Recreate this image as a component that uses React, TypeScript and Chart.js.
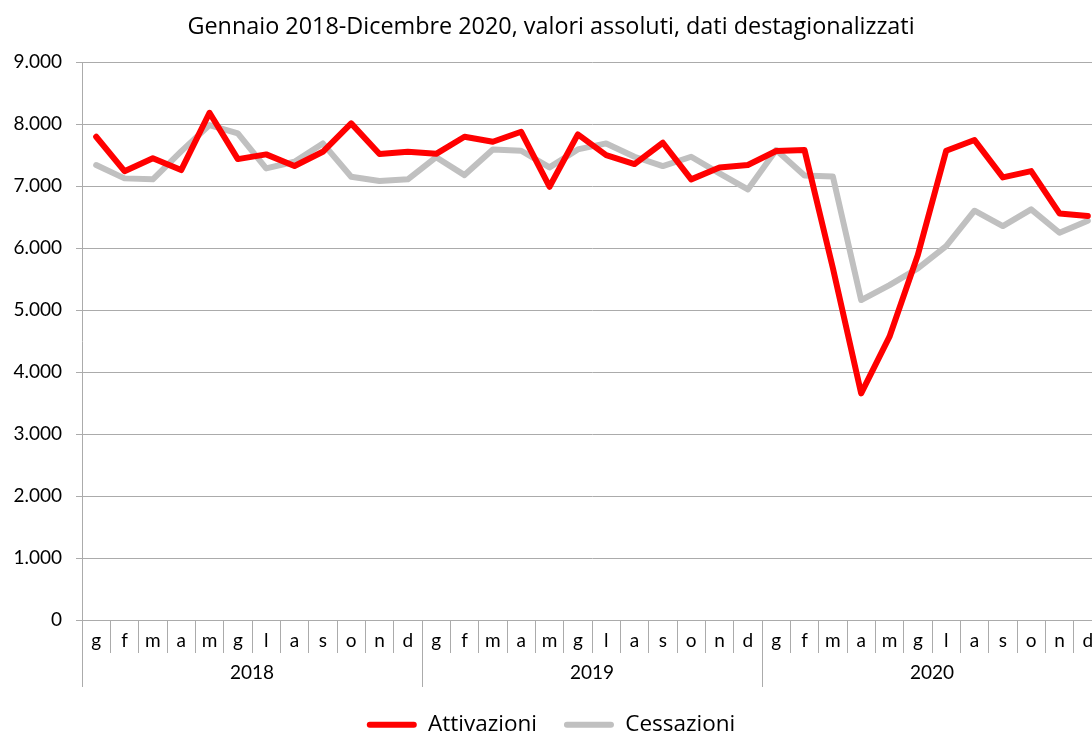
import React, { useEffect, useRef } from 'react';
import { Chart, registerables } from 'chart.js';

Chart.register(...registerables);

const TITLE = 'Gennaio 2018-Dicembre 2020, valori assoluti, dati destagionalizzati';
const MONTHS = ['g', 'f', 'm', 'a', 'm', 'g', 'l', 'a', 's', 'o', 'n', 'd'];
const YEARS = ['2018', '2019', '2020'];
const CATEGORIES = YEARS.flatMap(() => MONTHS);
const SERIES_NAMES = ['Attivazioni', 'Cessazioni'];

const ATTIVAZIONI = [
  7795, 7240, 7447, 7258, 8182, 7435, 7511, 7323, 7553, 8011, 7516, 7553,
  7520, 7796, 7715, 7876, 6989, 7833, 7500, 7355, 7699, 7108, 7301, 7339,
  7565, 7581, 5680, 3656, 4570, 5887, 7570, 7742, 7140, 7242, 6559, 6516,
];
const CESSAZIONI = [
  7339, 7124, 7108, 7560, 7984, 7850, 7285, 7392, 7688, 7150, 7081, 7108,
  7465, 7177, 7591, 7570, 7301, 7591, 7688, 7473, 7323, 7473, 7204, 6946,
  7581, 7170, 7155, 5161, 5403, 5672, 6032, 6602, 6355, 6624, 6247, 6440,
];

const Y_MIN = 0;
const Y_MAX = 9000;
const Y_STEP = 1000;

const FONT = 'Lato';
const TEXT_FONT = '"Open Sans"';
const GRID = '#ababab';
const RED = '#ff0000';
const GREY = '#c0c0c0';

const fmt = (v: number) => String(Math.round(v)).replace(/\B(?=(\d{3})+(?!\d))/g, '.');

const yearPlugin = {
  id: 'yearGroups',
  afterDraw(chart: any) {
    const xs = chart.scales.x;
    const ctx = chart.ctx;
    const n = MONTHS.length;
    const top = chart.chartArea.bottom;
    const bottom = top + 67;
    const half = (xs.getPixelForValue(1) - xs.getPixelForValue(0)) / 2;
    ctx.save();
    ctx.strokeStyle = GRID;
    ctx.lineWidth = 1;
    ctx.fillStyle = '#000';
    ctx.font = `19px ${FONT}`;
    ctx.textAlign = 'center';
    ctx.textBaseline = 'middle';
    YEARS.forEach((yr, i) => {
      const left = xs.getPixelForValue(i * n) - half;
      const right = xs.getPixelForValue(i * n + n - 1) + half;
      [left, right].forEach((px) => {
        const ax = Math.round(px) + 0.5;
        ctx.beginPath();
        ctx.moveTo(ax, top);
        ctx.lineTo(ax, bottom);
        ctx.stroke();
      });
      ctx.fillText(yr, (left + right) / 2, top + 53);
    });
    ctx.restore();
  },
};

export default function App() {
  const ref = useRef<HTMLCanvasElement | null>(null);

  useEffect(() => {
    let chart: Chart | null = null;
    let cancelled = false;
    const make = () => {
      if (cancelled || !ref.current) return;
      chart = new Chart(ref.current, {
        type: 'line',
        data: {
          labels: CATEGORIES,
          datasets: [
            {
              label: SERIES_NAMES[0],
              data: ATTIVAZIONI,
              borderColor: RED,
              backgroundColor: RED,
              borderWidth: 6,
              pointRadius: 0,
              borderJoinStyle: 'round',
              borderCapStyle: 'round',
              tension: 0,
            },
            {
              label: SERIES_NAMES[1],
              data: CESSAZIONI,
              borderColor: GREY,
              backgroundColor: GREY,
              borderWidth: 6,
              pointRadius: 0,
              borderJoinStyle: 'round',
              borderCapStyle: 'round',
              tension: 0,
            },
          ],
        },
        options: {
          animation: false,
          responsive: false,
          devicePixelRatio: 1,
          layout: { padding: { left: 0, right: 2, top: 0, bottom: -13 } },
          plugins: {
            tooltip: { enabled: false },
            title: {
              display: true,
              text: TITLE,
              color: '#000',
              font: { family: TEXT_FONT, size: 23.4, weight: 'normal' },
              padding: { top: 13, bottom: 21 },
            },
            legend: {
              display: true,
              position: 'bottom',
              labels: {
                color: '#000',
                font: { family: TEXT_FONT, size: 22.5 },
                boxWidth: 50,
                boxHeight: 6,
                padding: 27,
                useBorderRadius: true,
                borderRadius: 3,
                generateLabels: (c: any) => {
                  const items = Chart.defaults.plugins.legend.labels.generateLabels(c);
                  return items.map((it: any) => ({ ...it, lineWidth: 0 }));
                },
              },
            },
          },
          scales: {
            x: {
              type: 'category',
              offset: true,
              afterFit: (s: any) => { s.height = 66.5; },
              grid: {
                display: true,
                offset: true,
                drawOnChartArea: false,
                drawTicks: true,
                tickLength: 33,
                color: GRID,
              },
              border: { display: true, color: GRID },
              ticks: {
                color: '#000',
                font: { family: FONT, size: 19 },
                padding: -24,
                maxRotation: 0,
                autoSkip: false,
              },
            },
            y: {
              min: Y_MIN,
              max: Y_MAX,
              afterFit: (s: any) => { s.width = 82; },
              grid: { color: GRID, tickLength: 6, drawTicks: true },
              border: { display: true, color: GRID },
              ticks: {
                stepSize: Y_STEP,
                color: '#000',
                font: { family: FONT, size: 19 },
                padding: 14,
                callback: (v: any) => fmt(Number(v)),
              },
            },
          },
        },
        plugins: [yearPlugin],
      } as any);
    };
    const fontsReady = (document as any).fonts
      ? Promise.all([
          (document as any).fonts.load(`19px ${FONT}`),
          (document as any).fonts.load(`22px ${TEXT_FONT}`),
        ]).catch(() => null)
      : Promise.resolve(null);
    fontsReady.then(make);
    return () => {
      cancelled = true;
      if (chart) chart.destroy();
    };
  }, []);

  return (
    <div
      style={{
        position: 'fixed',
        left: 0,
        top: 0,
        width: 1092,
        height: 733,
        overflow: 'hidden',
        background: '#fff',
      }}
    >
      <canvas ref={ref} width={1104} height={733} style={{ display: 'block', width: 1104, height: 733 }} />
    </div>
  );
}
